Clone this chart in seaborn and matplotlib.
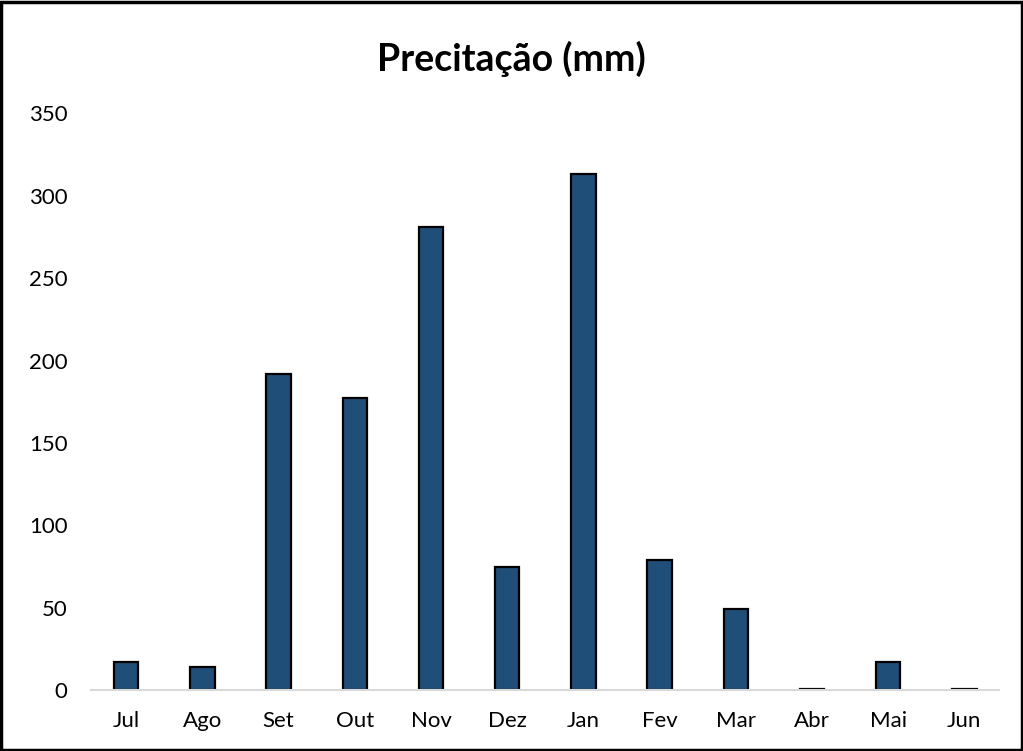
import numpy as np
import pandas as pd
import seaborn as sns
import matplotlib.pyplot as plt
from matplotlib.patches import Rectangle

# monthly rainfall (mm)
months = ["Jul", "Ago", "Set", "Out", "Nov", "Dez", "Jan", "Fev", "Mar", "Abr", "Mai", "Jun"]
rain = [17, 14, 192, 177, 281, 75, 313, 79, 49, 1, 17, 1]
yticks = [0, 50, 100, 150, 200, 250, 300, 350]

df = pd.DataFrame({"Mes": months, "Precipitacao": rain})

sns.set_style("white")
plt.rcParams["font.family"] = ["Lato", "DejaVu Sans"]

fig = plt.figure(figsize=(10.23, 7.51), dpi=100)
ax = fig.add_axes([0.089, 0.081, 0.888, 0.768])

sns.barplot(data=df, x="Mes", y="Precipitacao", color="#1F4E79", saturation=1,
            width=0.32, edgecolor="black", linewidth=1.6, ax=ax)

ax.set_ylim(0, 350)
ax.set_xlim(-0.46, 11.46)
ax.set_yticks(yticks)
ax.set_yticklabels([str(t) for t in yticks], fontsize=16, color="black")
ax.set_xticks(range(len(months)))
ax.set_xticklabels(months, fontsize=16, color="black")
ax.tick_params(axis="x", pad=15, length=0)
ax.tick_params(axis="y", length=0, pad=17)
ax.set_xlabel("")
ax.set_ylabel("")
for s in ["top", "right", "left"]:
    ax.spines[s].set_visible(False)
ax.spines["bottom"].set_color("#D9D9D9")
ax.spines["bottom"].set_linewidth(1.5)

fig.text(0.5, 0.922, "Precitação (mm)", ha="center", va="center",
         fontsize=27, fontweight="bold", color="black")

# frame around the chart area
fig.patches.append(Rectangle((0.001, 0.001), 0.998, 0.997, transform=fig.transFigure,
                             fill=False, edgecolor="black", linewidth=2.5))

fig.savefig("out.png", dpi=100)
